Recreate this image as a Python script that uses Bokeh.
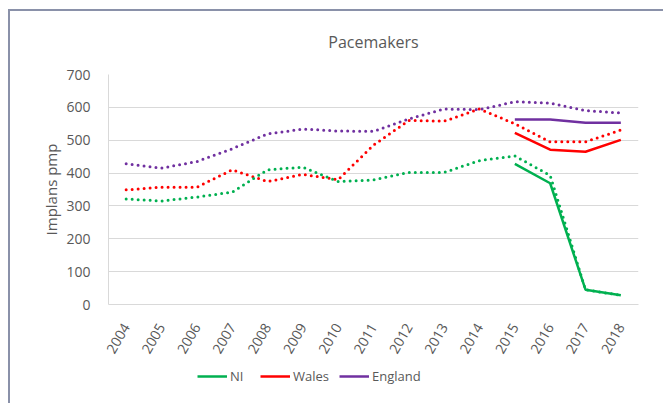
import math
from bokeh.plotting import figure
from bokeh.layouts import column
from bokeh.models import FixedTicker, Legend, LegendItem, Range1d, Title
from bokeh.embed import file_html
from bokeh.resources import INLINE

years = [2004, 2005, 2006, 2007, 2008, 2009, 2010, 2011, 2012, 2013, 2014, 2015, 2016, 2017, 2018]
ni_dotted = [321, 315, 327, 342, 410, 418, 374, 379, 402, 402, 438, 452, 393, 45, 28]
wales_dotted = [349, 357, 357, 410, 374, 396, 380, 485, 560, 558, 595, 550, 495, 495, 531]
england_dotted = [428, 415, 435, 474, 519, 534, 528, 527, 565, 595, 593, 617, 613, 590, 583]

solid_years = [2015, 2016, 2017, 2018]
ni_solid = [428, 369, 45, 28]
wales_solid = [522, 471, 465, 501]
england_solid = [563, 563, 553, 553]

y_ticks = [0, 100, 200, 300, 400, 500, 600, 700]
series_names = ["NI", "Wales", "England"]

GREEN = "#00b050"
RED = "#ff0000"
PURPLE = "#7030a0"
GRID = "#d9d9d9"
TXT = "#595959"
EDGE = "#8a91a9"
FONT = "Open Sans"

p = figure(width=663, height=362, output_backend="svg", toolbar_location=None,
           x_range=Range1d(years[0] - 0.5, years[-1] + 0.5), y_range=Range1d(0, 700),
           min_border_left=108, min_border_right=25, min_border_top=74, min_border_bottom=58)
p.outline_line_color = None
p.border_fill_color = None

t = Title(text="Pacemakers", align="center", offset=-35, text_font=FONT,
          text_font_size="16px", text_color=TXT, text_font_style="normal", standoff=43)
p.add_layout(t, "above")

p.xaxis.ticker = FixedTicker(ticks=years)
p.xaxis.major_label_overrides = {y: str(y) for y in years}
p.xaxis.major_label_orientation = math.pi / 3
p.yaxis.ticker = FixedTicker(ticks=y_ticks)
for ax in (p.xaxis, p.yaxis):
    ax.axis_line_color = GRID
    ax.major_tick_line_color = None
    ax.minor_tick_line_color = None
    ax.major_label_text_font = FONT
    ax.major_label_text_font_size = "14px"
    ax.major_label_text_color = TXT
p.xaxis.major_label_standoff = 14
p.yaxis.major_label_standoff = 12
p.yaxis.axis_label = "Implans pmp"
p.yaxis.axis_label_text_font = FONT
p.yaxis.axis_label_text_font_size = "15px"
p.yaxis.axis_label_text_font_style = "normal"
p.yaxis.axis_label_text_color = TXT
p.yaxis.axis_label_standoff = 2

p.xgrid.grid_line_color = None
p.ygrid.grid_line_color = GRID
p.ygrid.grid_line_width = 1.2

dot = dict(line_width=3, line_dash="0 6", line_cap="round")
p.line(years, england_dotted, line_color=PURPLE, **dot)
p.line(years, wales_dotted, line_color=RED, **dot)
p.line(years, ni_dotted, line_color=GREEN, **dot)

p.line(solid_years, ni_solid, line_color=GREEN, line_width=2.5)
p.line(solid_years, wales_solid, line_color=RED, line_width=2.5)
p.line(solid_years, england_solid, line_color=PURPLE, line_width=2.5)

# legend strip below the chart (its frame is aligned with the chart's frame)
q = figure(width=663, height=41, output_backend="svg", toolbar_location=None,
           x_range=Range1d(0, 1), y_range=Range1d(0, 1),
           x_axis_location=None, y_axis_location=None,
           min_border_left=0, min_border_right=0, min_border_top=0, min_border_bottom=0)
q.outline_line_color = None
q.border_fill_color = None
q.background_fill_color = None
q.grid.visible = False
items = []
for name, col, vals in zip(series_names, [GREEN, RED, PURPLE], [ni_solid, wales_solid, england_solid]):
    r = q.line(solid_years, vals, line_color=col, line_width=2.5, visible=False)
    items.append(LegendItem(label=name, renderers=[r]))
legend = Legend(items=items, orientation="horizontal", location=(89, 18),
                glyph_width=30, glyph_height=16, label_standoff=3, spacing=10,
                label_text_font=FONT, label_text_font_size="13px", label_text_color=TXT,
                background_fill_alpha=0, border_line_color=None, padding=0, margin=0)
q.add_layout(legend, "center")

layout = column(p, q, spacing=0)
layout.styles = {
    "background": (f"linear-gradient({EDGE},{EDGE}) 8px 9px / 2px 100% no-repeat, "
                   f"linear-gradient({EDGE},{EDGE}) 8px 9px / 100% 2px no-repeat")
}

open("out.html", "w").write(file_html(layout, INLINE))
